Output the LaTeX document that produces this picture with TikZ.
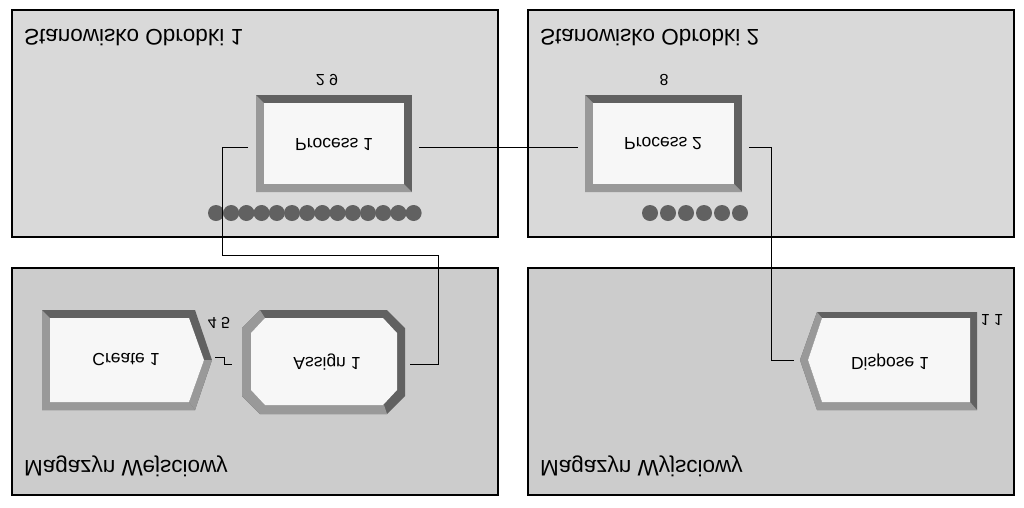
\documentclass[tikz,border=0pt]{standalone}
\usepackage{fontspec}
\setmainfont{Liberation Sans}
\tikzset{
  panel/.style={draw=black,line width=2.8pt},
  dk/.style={fill=black!62},
  lt/.style={fill=black!40},
  wh/.style={fill=black!3},
  conn/.style={draw=black,line width=0.8pt},
  flip/.style={yscale=-1,inner sep=0},
  title/.style={flip,font=\fontsize{22.5}{22.5}\selectfont,anchor=west},
  lab/.style={flip,font=\fontsize{17.5}{17.5}\selectfont},
  cnt/.style={flip,font=\fontsize{16}{16}\selectfont},
  dot/.style={circle,fill=black!62,minimum size=16pt,inner sep=0}
}
\newcommand{\bevrect}[5]{% x1 y1 x2 y2 b
  \fill[dk] (#1,#2) rectangle (#3,#4);
  \fill[lt] (#1,#2) -- (#1+#5,#2+#5) -- (#1+#5,#4-#5) -- (#3-#5,#4-#5) -- (#3,#4) -- (#1,#4) -- cycle;
  \fill[wh] (#1+#5,#2+#5) rectangle (#3-#5,#4-#5);}
\begin{document}
\begin{tikzpicture}[x=1pt,y=-1pt]
\useasboundingbox (0,0) rectangle (1024,507);
\fill[white] (0,0) rectangle (1024,507);
% panels
\draw[panel,fill=black!15] (12,10) rectangle (498,237);
\draw[panel,fill=black!15] (528,10) rectangle (1014,237);
\draw[panel,fill=black!20] (12,268) rectangle (498,495);
\draw[panel,fill=black!20] (528,268) rectangle (1014,495);
\node[title] (t1) at (24,38) {Stanowisko Obrobki 1};
\node[title] (t2) at (540,38) {Stanowisko Obrobki 2};
\node[title] (t3) at (24,466) {Magazyn Wejsciowy};
\node[title] (t4) at (540,466) {Magazyn Wyjsciowy};
% Process 1
\bevrect{256}{95}{412}{192}{8}
\node[lab] (p1) at (334,144) {Process 1};
\node[cnt] (c1) at (327,80) {2 9};
\foreach \i in {0,...,13} \node[dot] (qa\i) at (216+15.2*\i,213) {};
% Process 2
\bevrect{585}{95}{742}{192}{8}
\node[lab] (p2) at (663,144) {Process 2};
\node[cnt] (c2) at (664,80) {8};
\foreach \i in {0,...,5} \node[dot] (qb\i) at (650+18*\i,213) {};
% Create
\fill[dk] (42,310) -- (195,310) -- (212,360) -- (195,410) -- (42,410) -- cycle;
\fill[lt] (42,310) -- (50,318) -- (50,402) -- (189,402) -- (195,410) -- (42,410) -- cycle;
\fill[lt] (212,360) -- (204,360) -- (189,402) -- (195,410) -- cycle;
\fill[wh] (50,318) -- (189,318) -- (204,360) -- (189,402) -- (50,402) -- cycle;
\node[lab] (cr) at (126,360) {Create 1};
\node[cnt] (c3) at (219,323) {4 5};
% Assign
\fill[dk] (260,310) -- (387,310) -- (405,328) -- (405,396) -- (387,414) -- (260,414) -- (242,396) -- (242,328) -- cycle;
\fill[lt] (242,328) -- (260,310) -- (265,318) -- (251,333) -- (251,390) -- (265,405) -- (384,405) -- (387,414) -- (260,414) -- (242,396) -- cycle;
\fill[wh] (265,318) -- (383,318) -- (397,333) -- (397,390) -- (383,405) -- (265,405) -- (251,390) -- (251,333) -- cycle;
\node[lab] (as) at (327,362) {Assign 1};
% Dispose
\fill[dk] (800,360) -- (817,312) -- (977,312) -- (977,410) -- (817,410) -- cycle;
\fill[lt] (800,360) -- (817,312) -- (822,318) -- (808,360) -- (822,402) -- (970,402) -- (977,410) -- (817,410) -- cycle;
\fill[wh] (808,360) -- (822,318) -- (970,318) -- (970,402) -- (822,402) -- cycle;
\node[lab] (dp) at (890,362) {Dispose 1};
\node[cnt] (c4) at (992,320) {1 1};
% connector anchors
\coordinate (p1l) at (248,147);
\coordinate (p1r) at (419,147);
\coordinate (p2l) at (578,147);
\coordinate (p2r) at (749,147);
\coordinate (asr) at (410,364);
\coordinate (dpl) at (794,360);
\coordinate (crr) at (215,357);
\coordinate (asl) at (232,364);
\draw[conn] (p1l) -- (222,147) |- (438,255) |- (asr);
\draw[conn] (p1r) -- (p2l);
\draw[conn] (p2r) -- (771,147) |- (dpl);
\draw[conn] (crr) -- (224,357) |- (asl);
\end{tikzpicture}
\end{document}
